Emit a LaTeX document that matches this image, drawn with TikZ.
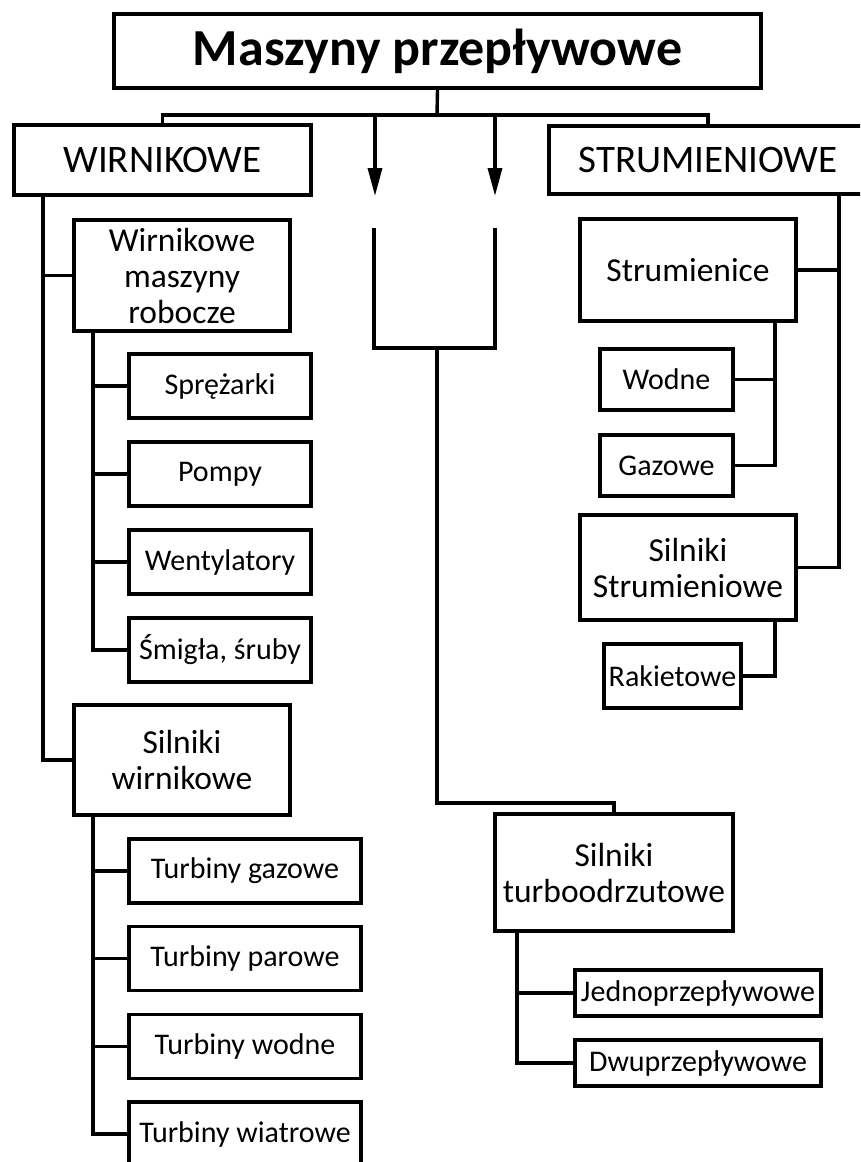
\documentclass[tikz,border=0pt]{standalone}
\usepackage{fontspec}
\setmainfont{Carlito}
\usetikzlibrary{arrows.meta}
\begin{document}
\begin{tikzpicture}[x=1pt,y=-1pt,
  bx/.style={draw, line width=3.6pt, inner sep=0pt, align=center, line join=miter},
  title/.style={bx, font=\fontsize{52}{60}\selectfont\bfseries},
  lvone/.style={bx, font=\fontsize{39}{44}\selectfont},
  mid/.style={bx, font=\fontsize{33.5}{36}\selectfont},
  small/.style={bx, font=\fontsize{30}{34}\selectfont},
  conn/.style={line width=3.4pt, line join=miter},
  arr/.style={conn, -{Triangle[length=28pt,width=14pt]}}
]
\useasboundingbox (0,0) rectangle (860,1162);
\clip (0,0) rectangle (860,1162);

% nodes
\node[title, minimum width=647pt, minimum height=74pt] (top) at (437.5,51) {Maszyny przepływowe};
\node[lvone, minimum width=297pt, minimum height=70pt] (wir) at (162.5,160) {WIRNIKOWE};
\node[lvone, minimum width=318pt, minimum height=68pt] (str) at (708,160) {STRUMIENIOWE};

\node[mid, minimum width=216pt, minimum height=111pt] (wmr) at (182,275.5) {Wirnikowe\\maszyny\\robocze};
\node[small, minimum width=182pt, minimum height=64pt] (spr) at (220,386) {Sprężarki};
\node[small, minimum width=182pt, minimum height=64pt] (pom) at (220,474) {Pompy};
\node[small, minimum width=182pt, minimum height=64pt] (wen) at (220,562) {Wentylatory};
\node[small, minimum width=182pt, minimum height=64pt] (smi) at (220,650) {Śmigła, śruby};

\node[mid, minimum width=216pt, minimum height=110pt] (swi) at (182,760) {Silniki\\wirnikowe};
\node[small, minimum width=232pt, minimum height=64pt] (tg) at (245,871) {Turbiny gazowe};
\node[small, minimum width=232pt, minimum height=64pt] (tp) at (245,958.5) {Turbiny parowe};
\node[small, minimum width=232pt, minimum height=64pt] (tw) at (245,1046.5) {Turbiny wodne};
\node[small, minimum width=232pt, minimum height=64pt] (twi) at (245,1134) {Turbiny wiatrowe};

\node[mid, minimum width=216pt, minimum height=102pt] (stc) at (688,270) {Strumienice};
\node[small, minimum width=133pt, minimum height=61pt] (wod) at (666.5,379.5) {Wodne};
\node[small, minimum width=133pt, minimum height=61pt] (gaz) at (666.5,465.5) {Gazowe};
\node[mid, minimum width=216pt, minimum height=105pt] (sst) at (688,567.5) {Silniki\\Strumieniowe};
\node[small, minimum width=137pt, minimum height=64pt] (rak) at (672.5,676) {Rakietowe};

\node[mid, minimum width=238pt, minimum height=117pt] (stu) at (614,872.5) {Silniki\\turboodrzutowe};
\node[small, minimum width=246pt, minimum height=46pt] (jed) at (698,993) {Jednoprzepływowe};
\node[small, minimum width=246pt, minimum height=46pt] (dwu) at (698,1063) {Dwuprzepływowe};

% helper coordinates
\coordinate (bar) at (437,115);
\coordinate (a1s) at (375,115);
\coordinate (a1e) at (375,196);
\coordinate (a2s) at (495,115);
\coordinate (a2e) at (495,196);
\coordinate (b1) at (374,228);
\coordinate (b2) at (495,228);
\coordinate (bm) at (437,348);
\coordinate (bend) at (437,803);

% top connectors
\draw[conn] (top.south) -- (bar);
\draw[conn] (wir.north) |- (bar) -| (str.north);
\draw[arr] (a1s) -- (a1e);
\draw[arr] (a2s) -- (a2e);
\draw[conn] (b1) |- (bm) -| (b2);
\draw[conn] (bm) -- (bend) -| (stu.north);

% left tree
\draw[conn] (wir.south -| 43,0) |- (swi.west);
\draw[conn] (43,275.5) -- (wmr.west);
\draw[conn] (wmr.south -| 93,0) |- (smi.west);
\draw[conn] (93,386) -- (spr.west);
\draw[conn] (93,474) -- (pom.west);
\draw[conn] (93,562) -- (wen.west);
\draw[conn] (swi.south -| 93,0) |- (twi.west);
\draw[conn] (93,871) -- (tg.west);
\draw[conn] (93,958.5) -- (tp.west);
\draw[conn] (93,1046.5) -- (tw.west);

% right tree
\draw[conn] (str.south -| 839,0) |- (sst.east);
\draw[conn] (839,270) -- (stc.east);
\draw[conn] (stc.south -| 775,0) |- (gaz.east);
\draw[conn] (775,379.5) -- (wod.east);
\draw[conn] (sst.south -| 775,0) |- (rak.east);

% turbo tree
\draw[conn] (stu.south -| 517,0) |- (dwu.west);
\draw[conn] (517,993) -- (jed.west);
\end{tikzpicture}
\end{document}
